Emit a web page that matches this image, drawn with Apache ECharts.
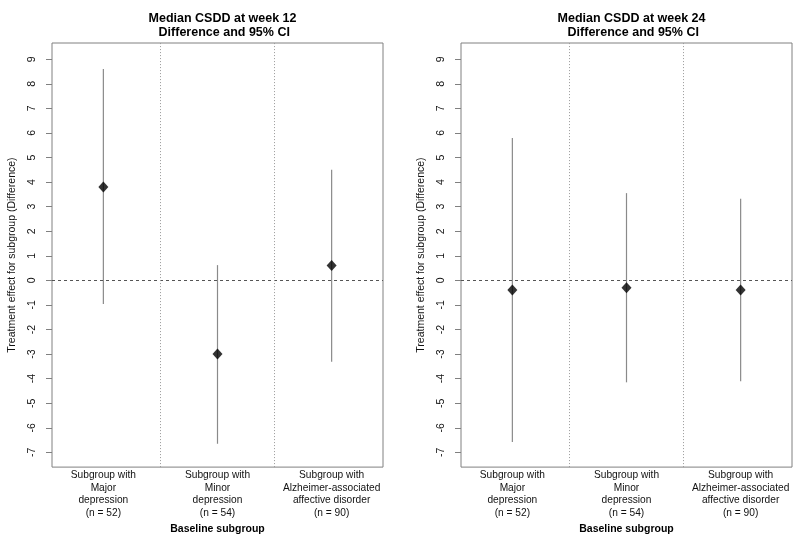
<!DOCTYPE html>
<html>
<head>
<meta charset="utf-8">
<script src="https://cdn.jsdelivr.net/npm/echarts@6/dist/echarts.min.js"></script>
<style>html,body{margin:0;padding:0;background:#fff;}#chart{width:800px;height:540px;}</style>
</head>
<body>
<div id="chart"></div>
<script>
// ---- data ----
const categories = [
  'Subgroup with\nMajor\ndepression\n(n = 52)',
  'Subgroup with\nMinor\ndepression\n(n = 54)',
  'Subgroup with\nAlzheimer-associated\naffective disorder\n(n = 90)'
];
const categoryPositions = [1, 2, 3];
const dividerPositions = [1.5, 2.5];
const yTickValues = [-7, -6, -5, -4, -3, -2, -1, 0, 1, 2, 3, 4, 5, 6, 7, 8, 9];
const panelTitles = ['Median CSDD at week 12\n Difference and 95% CI', 'Median CSDD at week 24\n Difference and 95% CI'];
const week12Estimate = [3.8, -3.0, 0.6];
const week12Lower = [-0.96, -6.65, -3.31];
const week12Upper = [8.6, 0.62, 4.5];
const week24Estimate = [-0.39, -0.3, -0.39];
const week24Lower = [-6.58, -4.15, -4.11];
const week24Upper = [5.79, 3.55, 3.32];
const yAxisName = 'Treatment effect for subgroup (Difference)';
const xAxisName = 'Baseline subgroup';

// ---- chart ----
const FONT = '"Liberation Sans", Arial, Helvetica, sans-serif';
const chart = echarts.init(document.getElementById('chart'), null, {renderer: 'canvas'});

const panels = [
  {left: 52, est: week12Estimate, lo: week12Lower, hi: week12Upper, title: panelTitles[0]},
  {left: 461, est: week24Estimate, lo: week24Lower, hi: week24Upper, title: panelTitles[1]}
];
const gridW = 331, gridTop = 43, gridH = 425;

const option = {
  animation: false,
  backgroundColor: '#fff',
  title: panels.map(p => ({
    text: p.title,
    left: p.left + gridW / 2,
    textAlign: 'center',
    top: 6,
    textStyle: {fontFamily: FONT, fontSize: 12.5, fontWeight: 'bold', color: '#000', lineHeight: 14.5}
  })),
  grid: panels.map(p => ({
    left: p.left, top: gridTop, width: gridW, height: gridH,
    show: true, borderColor: '#808080', borderWidth: 1, backgroundColor: 'transparent'
  })),
  xAxis: panels.map((p, i) => ({
    type: 'value', gridIndex: i, min: 0.55, max: 3.45,
    splitLine: {show: false}, axisLine: {show: false}, axisTick: {show: false},
    axisLabel: {
      customValues: categoryPositions,
      formatter: v => categories[Math.round(v) - 1],
      fontFamily: FONT, fontSize: 10.2, lineHeight: 12.5, color: '#111', margin: 2, align: 'center'
    },
    name: xAxisName, nameLocation: 'middle', nameGap: 53,
    nameTextStyle: {fontFamily: FONT, fontSize: 10.5, fontWeight: 'bold', color: '#000'}
  })),
  yAxis: panels.map((p, i) => ({
    type: 'value', gridIndex: i, min: -7.6, max: 9.66,
    splitLine: {show: false},
    axisLine: {show: false},
    axisTick: {show: true, customValues: yTickValues, length: 6, lineStyle: {color: '#808080'}},
    axisLabel: {customValues: yTickValues, rotate: 90, margin: 14, fontFamily: FONT, fontSize: 10.5, color: '#111'},
    name: yAxisName, nameLocation: 'middle', nameGap: 34,
    nameTextStyle: {fontFamily: FONT, fontSize: 10.5, color: '#111'}
  })),
  series: []
};

panels.forEach((p, i) => {
  // error bars
  option.series.push({
    type: 'custom', xAxisIndex: i, yAxisIndex: i,
    data: categoryPositions.map((x, k) => [x, p.lo[k], p.hi[k]]),
    renderItem: function (params, api) {
      const a = api.coord([api.value(0), api.value(1)]);
      const b = api.coord([api.value(0), api.value(2)]);
      return {type: 'line', shape: {x1: a[0], y1: a[1], x2: b[0], y2: b[1]},
        style: {stroke: '#8a8a8a', lineWidth: 1.2}};
    },
    z: 2, silent: true
  });
  // points + reference lines
  option.series.push({
    type: 'scatter', xAxisIndex: i, yAxisIndex: i,
    data: categoryPositions.map((x, k) => [x, p.est[k]]),
    symbol: 'diamond', symbolSize: [10, 11],
    itemStyle: {color: '#000'}, z: 5, silent: true,
    markLine: {
      silent: true, symbol: 'none', label: {show: false}, animation: false,
      data: [
        {yAxis: 0, lineStyle: {type: [3, 3], color: '#555', width: 1}},
        ...dividerPositions.map(d => ({xAxis: d, lineStyle: {type: [1, 2], color: '#999', width: 1}}))
      ]
    }
  });
});

chart.setOption(option);
</script>
</body>
</html>
